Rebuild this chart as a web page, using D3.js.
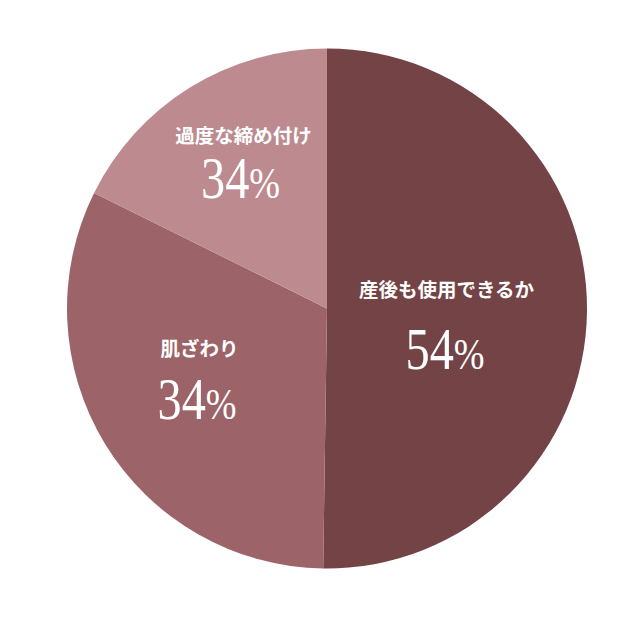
<!DOCTYPE html>
<html>
<head>
<meta charset="utf-8">
<script src="https://cdn.jsdelivr.net/npm/d3@7"></script>
<style>
  html, body { margin: 0; padding: 0; background: #fff; }
</style>
</head>
<body>
<div id="chart"></div>
<script>
// slice data, clockwise from 12 o'clock
const categories = ["産後も使用できるか", "肌ざわり", "過度な締め付け"];
const shares = [54, 34.5, 19];          // slice sizes
const pctLabels = ["54", "34", "34"];   // numbers printed on the slices
const colors = ["#734345", "#9c6468", "#bd8b8f"];

const width = 617, height = 617;
const cx = 327, cy = 308.5, radius = 260;

// label placement per slice: category label centre (relative), gap to number baseline
const labelOffset = [[119.5, -11.5], [-127.5, 47.5], [-83.5, -165.5]];
const numberGap = [72, 63, 55];
const numberShift = [-1.5, -2.5, -3];

const svg = d3.select("#chart").append("svg")
    .attr("width", width)
    .attr("height", height);

const g = svg.append("g")
    .attr("transform", `translate(${cx},${cy})`);

const pie = d3.pie().sort(null).value(d => d);
const arcs = pie(shares);
const arc = d3.arc().innerRadius(0).outerRadius(radius);

g.selectAll("path.slice")
    .data(arcs)
    .join("path")
    .attr("class", "slice")
    .attr("d", arc)
    .attr("fill", (d, i) => colors[i]);

const labels = g.selectAll("g.lbl")
    .data(arcs)
    .join("g")
    .attr("class", "lbl")
    .attr("transform", (d, i) => `translate(${labelOffset[i][0]},${labelOffset[i][1]})`);

labels.append("text")
    .attr("text-anchor", "middle")
    .attr("fill", "#fff")
    .style("font-family", "'Noto Sans CJK JP', 'Noto Sans', sans-serif")
    .style("font-weight", 700)
    .style("font-size", "19.5px")
    .text((d, i) => categories[i]);

// thin tall numerals: squeeze the serif a little horizontally
const num = labels.append("text")
    .attr("text-anchor", "middle")
    .attr("transform", (d, i) => `translate(${numberShift[i]},${numberGap[i]}) scale(0.82,1)`)
    .attr("fill", "#fff")
    .style("font-family", "'Liberation Serif', 'DejaVu Serif', serif")
    .style("font-weight", 400);

num.append("tspan")
    .style("font-size", "59px")
    .text((d, i) => pctLabels[i]);

num.append("tspan")
    .style("font-size", "45px")
    .text("%");
</script>
</body>
</html>
